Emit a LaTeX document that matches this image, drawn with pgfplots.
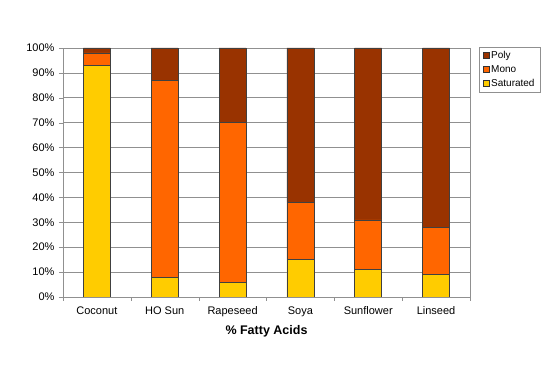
\documentclass[border=0pt]{standalone}
\usepackage{pgfplots}
\pgfplotsset{compat=1.18}
\usepackage{fontspec}
\setmainfont{Liberation Sans}
\definecolor{poly}{HTML}{993300}
\definecolor{mono}{HTML}{FF6600}
\definecolor{sat}{HTML}{FFCC00}
\definecolor{gridc}{HTML}{909090}
\begin{document}
\begin{tikzpicture}
\begin{axis}[
  name=ax,
  at={(0,0)}, anchor=south west,
  scale only axis,
  width=407pt, height=249pt,
  ybar stacked,
  bar width=27pt,
  xmin=-0.5, xmax=5.5,
  ymin=0, ymax=100,
  xtick={0,1,2,3,4,5},
  xticklabels={Coconut,HO Sun,Rapeseed,Soya,Sunflower,Linseed},
  major x tick style={draw=none},
  minor xtick={-0.5,0.5,1.5,2.5,3.5,4.5,5.5},
  minor x tick style={draw=gridc},
  minor tick length=4pt,
  ytick={0,10,...,100},
  yticklabel={\pgfmathprintnumber{\tick}\%},
  /pgf/number format/assume math mode=true,
  ymajorgrids,
  grid style={draw=gridc, line width=0.6pt},
  axis line style={draw=gridc, line width=0.6pt},
  y tick style={draw=gridc},
  major tick length=4pt,
  tick align=outside,
  xtick pos=bottom, ytick pos=left,
  ticklabel style={font=\fontsize{11}{13}\selectfont},
  xticklabel style={yshift=-2pt},
  yticklabel style={xshift=-1pt},
  xlabel={\textbf{\% Fatty Acids}},
  xlabel style={font=\fontsize{12.5}{14}\selectfont, at={(axis description cs:0.5,0)}, anchor=center, yshift=-34pt},
  legend style={at={(1,1)}, anchor=north west, xshift=9pt, yshift=1pt,
    draw=gridc, fill=white, font=\fontsize{10}{12}\selectfont,
    row sep=1.5pt, inner xsep=4pt, inner ysep=2pt,
    nodes={inner xsep=1.5pt},
    legend cell align=left},
  legend image code/.code={\draw[#1, draw=black!80] (0pt,-3pt) rectangle (6pt,3pt);},
  reverse legend,
  every axis plot/.append style={draw=black!75, line width=0.5pt},
]
\addplot[fill=sat] coordinates {(0,93) (1,8) (2,6) (3,15) (4,11) (5,9)};
\addplot[fill=mono] coordinates {(0,5) (1,79) (2,64) (3,23) (4,20) (5,19)};
\addplot[fill=poly] coordinates {(0,2) (1,13) (2,30) (3,62) (4,69) (5,72)};
\legend{Saturated,Mono,Poly}
\end{axis}
\pgfresetboundingbox
\path[use as bounding box] ([shift={(-63pt,-88pt)}]ax.south west) rectangle ([shift={(487pt,297pt)}]ax.south west);
\end{tikzpicture}
\end{document}
